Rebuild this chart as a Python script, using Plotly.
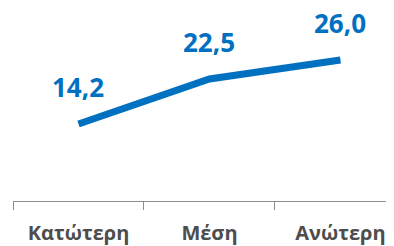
import plotly.graph_objects as go

categories = ["Κατώτερη", "Μέση", "Ανώτερη"]
values = [14.2, 22.5, 26.0]
labels = ["14,2", "22,5", "26,0"]

fig = go.Figure()
fig.add_trace(go.Scatter(
    x=categories, y=values, mode="lines",
    line=dict(color="#0070C0", width=7),
    hoverinfo="skip",
))
for c, v, t in zip(categories, values, labels):
    fig.add_annotation(x=c, y=v, text=t, showarrow=False, yshift=37,
                       font=dict(family="Open Sans", size=26, color="#0070C0", weight="bold"))

fig.update_layout(
    width=394, height=246,
    margin=dict(l=5, r=0, t=0, b=53),
    paper_bgcolor="white", plot_bgcolor="white",
    showlegend=False,
    xaxis=dict(type="category", range=[-0.5, 2.47], tickson="boundaries",
               ticks="outside", ticklen=8, tickcolor="#8c8c8c", tickwidth=1,
               showline=True, linecolor="#8c8c8c", linewidth=1, showgrid=False,
               tickfont=dict(family="Open Sans", size=20, color="#4d4d4d", weight="bold"),
               ticklabelstandoff=14),
    yaxis=dict(range=[0, 35.6], visible=False, showgrid=False),
)
fig.write_html("out.html")
